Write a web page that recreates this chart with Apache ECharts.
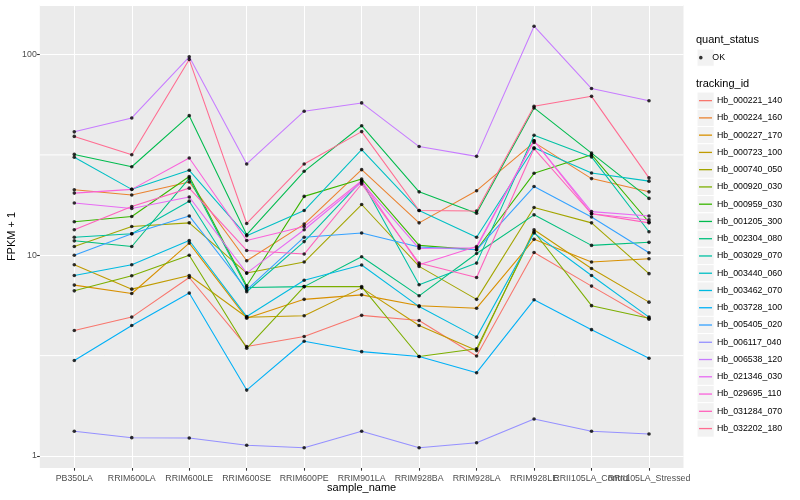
<!DOCTYPE html>
<html><head><meta charset="utf-8">
<script src="https://cdn.jsdelivr.net/npm/echarts@6/dist/echarts.min.js"></script>
<style>html,body{margin:0;padding:0;background:#fff}#c{width:800px;height:500px}</style>
</head><body><div id="c"></div>
<script>
// ---- data ----
const sampleNames = ['PB350LA','RRIM600LA','RRIM600LE','RRIM600SE','RRIM600PE','RRIM901LA','RRIM928BA','RRIM928LA','RRIM928LE','RRII105LA_Control','RRII105LA_Stressed'];
const trackingIds = ['Hb_000221_140','Hb_000224_160','Hb_000227_170','Hb_000723_100','Hb_000740_050','Hb_000920_030','Hb_000959_030','Hb_001205_300','Hb_002304_080','Hb_003029_070','Hb_003440_060','Hb_003462_070','Hb_003728_100','Hb_005405_020','Hb_006117_040','Hb_006538_120','Hb_021346_030','Hb_029695_110','Hb_031284_070','Hb_032202_180'];
const quantStatus = ['OK'];
const yMinorBreaks = [3.162, 31.62];

const hb_000221_140 = [4.22, 4.92, 7.75, 3.51, 3.94, 5.02, 4.73, 3.15, 10.33, 7.02, 4.80];
const hb_000224_160 = [21.2, 19.96, 23.2, 9.39, 14.3, 26.7, 14.5, 20.97, 36.5, 24.1, 20.7];
const hb_000227_170 = [7.10, 6.45, 11.5, 4.86, 6.03, 6.35, 5.60, 5.45, 12.0, 9.25, 9.61];
const hb_000723_100 = [8.97, 6.78, 7.93, 4.91, 5.00, 6.88, 4.47, 3.35, 13.4, 8.59, 5.84];
const hb_000740_050 = [11.06, 13.9, 14.5, 8.15, 9.25, 17.9, 8.80, 6.03, 17.3, 14.5, 8.10];
const hb_000920_030 = [6.65, 7.90, 10.0, 3.44, 6.98, 6.98, 3.13, 3.42, 13.1, 5.61, 4.86];
const hb_000959_030 = [14.7, 15.6, 24.7, 7.05, 19.65, 24.0, 11.2, 10.65, 25.6, 31.7, 14.6];
const hb_001205_300 = [31.8, 27.6, 49.6, 12.66, 26.2, 44.2, 20.7, 16.2, 54.2, 32.3, 19.2];
const hb_002304_080 = [11.8, 11.06, 24.15, 6.91, 6.98, 9.83, 6.28, 10.2, 15.9, 11.2, 11.6];
const hb_003029_070 = [12.3, 12.8, 18.6, 6.58, 11.7, 23.5, 7.13, 9.14, 39.6, 30.9, 13.1];
const hb_003440_060 = [30.8, 21.3, 26.5, 12.5, 16.7, 33.6, 16.7, 12.3, 34.3, 25.7, 23.4];
const hb_003462_070 = [7.93, 8.97, 11.85, 4.95, 7.51, 8.94, 5.55, 3.91, 12.9, 7.93, 4.92];
const hb_003728_100 = [2.99, 4.47, 6.48, 2.13, 3.73, 3.31, 3.13, 2.60, 6.00, 4.26, 3.07];
const hb_005405_020 = [10.0, 12.8, 15.7, 6.73, 12.3, 12.9, 11.0, 10.65, 22.0, 15.5, 10.3];
const hb_006117_040 = [1.328, 1.234, 1.230, 1.131, 1.100, 1.328, 1.100, 1.165, 1.529, 1.328, 1.287];
const hb_006538_120 = [41.2, 48.3, 97.4, 28.5, 52.2, 57.4, 34.8, 31.1, 138.4, 67.7, 58.8];
const hb_021346_030 = [18.2, 17.1, 19.5, 8.15, 13.4, 23.1, 10.8, 10.9, 37.2, 16.5, 15.7];
const hb_029695_110 = [20.4, 21.3, 30.5, 11.85, 13.9, 23.5, 8.97, 11.06, 37.2, 16.1, 15.0];
const hb_031284_070 = [13.4, 17.5, 21.6, 10.57, 10.14, 22.65, 9.14, 7.75, 34.0, 16.1, 14.5];
const hb_032202_180 = [39.1, 31.7, 94.4, 14.4, 28.5, 41.3, 16.7, 16.6, 55.2, 61.9, 24.3];

const seriesValues = [hb_000221_140, hb_000224_160, hb_000227_170, hb_000723_100, hb_000740_050,
  hb_000920_030, hb_000959_030, hb_001205_300, hb_002304_080, hb_003029_070, hb_003440_060,
  hb_003462_070, hb_003728_100, hb_005405_020, hb_006117_040, hb_006538_120, hb_021346_030,
  hb_029695_110, hb_031284_070, hb_032202_180];

// ---- style ----
const palette = ['#F8766D','#EA8331','#D89000','#C09B00','#A3A500','#7CAE00','#39B600','#00BB4E','#00BF7D','#00C1A3','#00BFC4','#00BAE0','#00B0F6','#35A2FF','#9590FF','#C77CFF','#E76BF3','#FA62DB','#FF62BC','#FF6C91'];
const FONT = "'Liberation Sans', Arial, Helvetica, sans-serif";
const yMin = 0.8714, yMax = 176.5;
const keyStep = 17.26, keyTop = 92;

const chart = echarts.init(document.getElementById('c'), null, {renderer: 'canvas'});

const lineSeries = trackingIds.map((id, i) => ({
  name: id, type: 'line', xAxisIndex: 1, yAxisIndex: 1,
  data: seriesValues[i], symbol: 'none',
  lineStyle: {width: 1.07, color: palette[i]}, itemStyle: {color: palette[i]},
  z: 2
}));

// minor horizontal grid lines across the whole panel (grid 0 has an edge-to-edge category axis)
const minorSeries = yMinorBreaks.map((v, k) => ({
  name: 'minor' + k, type: 'line', xAxisIndex: 0, yAxisIndex: 0,
  data: sampleNames.map(() => v), symbol: 'none',
  lineStyle: {color: '#FFFFFF', width: 1}, z: 1
}));

const pointData = [];
seriesValues.forEach(vals => vals.forEach((v, j) => pointData.push([sampleNames[j], v])));

const keyRects = trackingIds.map((id, i) => ({
  type: 'rect', z: 0, silent: true,
  shape: {x: 697, y: keyTop + i * keyStep, width: 17.2, height: keyStep},
  style: {fill: '#F2F2F2', stroke: '#fff', lineWidth: 1}
}));
keyRects.push({type: 'rect', z: 0, silent: true,
  shape: {x: 697, y: 49, width: 17.2, height: keyStep},
  style: {fill: '#F2F2F2', stroke: '#fff', lineWidth: 1}});

const option = {
  animation: false,
  color: palette,
  textStyle: {fontFamily: FONT},
  title: [
    {text: 'quant_status', left: 696, top: 34, padding: 0, textStyle: {fontSize: 11, fontWeight: 'normal', color: '#000', fontFamily: FONT}},
    {text: 'tracking_id', left: 696, top: 78, padding: 0, textStyle: {fontSize: 11, fontWeight: 'normal', color: '#000', fontFamily: FONT}}
  ],
  graphic: keyRects,
  legend: [
    {data: quantStatus.map(q => ({name: q, icon: 'circle'})), orient: 'vertical', left: 699, top: 49, padding: 0,
     itemWidth: 13, itemHeight: 3.6, itemGap: 0, selectedMode: false,
     textStyle: {fontSize: 8.8, color: '#000', lineHeight: keyStep, fontFamily: FONT}},
    {data: trackingIds, orient: 'vertical', left: 699, top: keyTop, padding: 0,
     icon: 'rect', itemWidth: 13, itemHeight: 1.3, itemGap: 0, selectedMode: false,
     textStyle: {fontSize: 8.8, color: '#000', lineHeight: keyStep, fontFamily: FONT}}
  ],
  grid: [
    {left: 39.8, right: 116.5, top: 5, bottom: 32, show: true, backgroundColor: '#EBEBEB', borderWidth: 0, outerBoundsMode: 'none', containLabel: false},
    {left: 74.3, right: 151, top: 5, bottom: 32, show: false, outerBoundsMode: 'none', containLabel: false}
  ],
  xAxis: [
    {gridIndex: 0, type: 'category', data: sampleNames, boundaryGap: false,
     axisLine: {show: false}, axisTick: {show: false}, axisLabel: {show: false}, splitLine: {show: false}},
    {gridIndex: 1, type: 'category', data: sampleNames, boundaryGap: false,
     axisLine: {show: false},
     axisTick: {show: true, length: 2.7, interval: 0, lineStyle: {color: '#333', width: 1.07}},
     axisLabel: {interval: 0, fontSize: 8.8, color: '#4D4D4D', margin: 6.5, fontFamily: FONT},
     splitLine: {show: true, interval: 0, lineStyle: {color: '#fff', width: 1.07}},
     name: 'sample_name', nameLocation: 'middle', nameGap: 14, nameMoveOverlap: false,
     nameTextStyle: {fontSize: 11, color: '#000', fontFamily: FONT}}
  ],
  yAxis: [
    {gridIndex: 0, type: 'log', logBase: 10, min: yMin, max: yMax,
     axisLine: {show: false},
     axisTick: {show: true, length: 2.7, lineStyle: {color: '#333', width: 1.07}},
     axisLabel: {fontSize: 8.8, color: '#4D4D4D', margin: 3, showMinLabel: false, showMaxLabel: false, fontFamily: FONT},
     splitLine: {show: true, lineStyle: {color: '#fff', width: 1.07}},
     name: 'FPKM + 1', nameLocation: 'middle', nameGap: 22, nameRotate: 90, nameMoveOverlap: false,
     nameTextStyle: {fontSize: 11, color: '#000', fontFamily: FONT}},
    {gridIndex: 1, type: 'log', logBase: 10, min: yMin, max: yMax, show: false}
  ],
  series: [
    ...minorSeries,
    ...lineSeries,
    {name: 'OK', type: 'scatter', xAxisIndex: 1, yAxisIndex: 1, data: pointData,
     symbol: 'circle', symbolSize: 3.6, itemStyle: {color: '#000'}, z: 3}
  ]
};
chart.setOption(option);
</script>
</body></html>
